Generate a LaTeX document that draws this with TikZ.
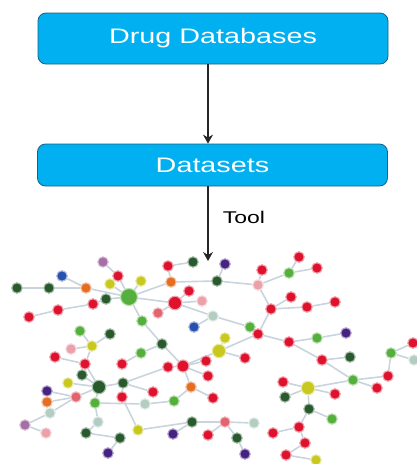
\documentclass[tikz,border=0pt]{standalone}
\usepackage{fontspec}
\usepackage{graphicx}
\setmainfont{Liberation Sans}
\usetikzlibrary{arrows.meta,backgrounds}

\definecolor{boxfill}{RGB}{0,176,240}
\definecolor{boxline}{RGB}{25,95,130}
\definecolor{cred}{RGB}{222,18,45}
\definecolor{cdgreen}{RGB}{40,90,45}
\definecolor{cgreen}{RGB}{85,175,60}
\definecolor{cyel}{RGB}{200,200,30}
\definecolor{cora}{RGB}{230,110,35}
\definecolor{cpink}{RGB}{235,160,170}
\definecolor{csalm}{RGB}{225,100,110}
\definecolor{cpurp}{RGB}{70,35,130}
\definecolor{cmauve}{RGB}{165,110,165}
\definecolor{cblue}{RGB}{40,80,175}
\definecolor{clite}{RGB}{180,205,195}
\definecolor{cedge}{RGB}{200,212,222}

\tikzset{
  box/.style={draw=boxline, fill=boxfill, rounded corners=8pt, line width=0.8pt,
              text=white, minimum width=350pt},
  link/.style={draw=black!85, line width=1.2pt,
               -{Stealth[length=9pt,width=10pt,inset=3pt]}},
  dot/.style={circle, inner sep=0pt, minimum size=10.5pt, line width=1.1pt},
  big/.style={minimum size=13.5pt},
  huge/.style={minimum size=17pt},
  edge/.style={draw=cedge, line width=1.6pt},
  nr/.style={fill=cred, draw=cred!40},
  nd/.style={fill=cdgreen, draw=cdgreen!40},
  ng/.style={fill=cgreen, draw=cgreen!40},
  ny/.style={fill=cyel, draw=cyel!40},
  no/.style={fill=cora, draw=cora!40},
  nk/.style={fill=cpink, draw=cpink!40},
  ns/.style={fill=csalm, draw=csalm!40},
  nu/.style={fill=cpurp, draw=cpurp!40},
  nm/.style={fill=cmauve, draw=cmauve!40},
  nb/.style={fill=cblue, draw=cblue!40},
  nl/.style={fill=clite, draw=clite!40},
  bigr/.style={nr,big}, bigy/.style={ny,big}, bigd/.style={nd,big},
  bigg/.style={ng,huge}, midr/.style={nr,minimum size=12pt}
}

\begin{document}
\begin{tikzpicture}[x=1pt, y=-1pt]
\useasboundingbox (0,0) rectangle (417,464);

\node[box, minimum height=51pt] (db) at (213,38.5)
  {\fontsize{21}{25}\selectfont\scalebox{1.37}[1]{Drug Databases}};
\node[box, minimum height=42pt] (ds) at (212.5,165)
  {\fontsize{21}{25}\selectfont\scalebox{1.37}[1]{Datasets}};
\coordinate (net) at (208,261);
\node (tool) at (244,217) {\fontsize{17}{20}\selectfont\scalebox{1.35}[1]{Tool}};

\draw[link] ([xshift=-5pt]db.south) -- ([xshift=-4.5pt]ds.north);
\draw[link] ([xshift=-4.5pt]ds.south) -- (net);

% network
\foreach \n/\x/\y/\s in {
  p1/103/262/nm, r1/118/276/nr, b1/62/276/nb, y1/110/284/ny,
  d1/17/288/nd, d2/49/288/nd, o1/86/288/no, G/129/297/bigg,
  d3/106/299/nd, r2/93/304/nr, r3/58/310/nr, r4/29/317/nr,
  y2/141/281/ny, o2/171/282/no, r5/168/266/nr, d4/193/262/nd,
  u1/225/264/nu, d5/217/281/nd, k1/258/285/nk, r6/262/270/nr,
  g1/289/273/ng, r7/299/257/nr, r8/317/268/nr,
  R/175/303/bigr, r9/189/291/nr, k2/202/301/nk, s1/158/313/ns,
  l1/213/316/nl, b2/194/327/nb, g2/250/327/ng, r10/258/334/nr,
  r11/271/309/nr, r12/291/297/nr, r13/307/307/nr, r14/335/302/nr,
  r15/289/342/nr, g3/317/338/ng, u2/346/333/nu,
  r16/322/360/nr, d6/350/357/nd, g4/353/380/ng, r17/388/376/nr,
  g5/391/353/ng, r18/413/343/nr, l2/414/360/nl, r19/377/388/nr,
  Y2/308/388/bigy, r20/283/382/nr, d7/285/397/nd, r21/335/394/nr,
  d8/309/409/nd, g6/332/419/ng, r22/299/427/nr, r23/273/433/nr,
  r24/305/443/nr, r25/286/455/nr, y3/316/460/ny,
  g7/142/321/ng, d9/162/344/nd, g8/141/353/ng,
  Y1/219/351/bigy, y4/225/338/ny, r26/245/358/nr, r27/206/361/nr,
  R2/183/366/midr, r28/168/367/nr, r29/208/376/nr, o3/191/387/no,
  r30/213/398/nr, g9/174/401/ng, l3/145/404/nl, r31/153/392/nr,
  d10/123/383/nd, D/99/387/bigd, d11/82/375/nd, y5/68/383/ny,
  s2/76/397/ns, r32/122/397/nr, g10/95/403/ng, r33/85/364/nr,
  y6/92/346/ny, g11/80/331/ng, d12/110/334/nd, k3/71/349/nk,
  r34/55/357/nr, r35/122/364/nr, u3/47/391/nu, o4/47/402/no,
  l4/50/413/nl, m1/25/425/nm, k4/46/433/nk, l5/98/422/nl,
  d13/86/433/nd, d14/120/438/nd, u4/108/453/nu, y7/138/430/ny,
  d15/192/422/nd, u5/173/434/nu, s3/225/422/ns, l6/254/423/nl,
  r36/208/435/nr, d16/237/438/nd, u6/245/454/nu}
  \node[dot, \s] (\n) at (\x,\y) {};

\begin{scope}[on background layer]
\foreach \a/\b in {
  d1/d2, d2/o1, b1/o1, o1/G, p1/r1, r1/G, y1/G, r4/r3, r3/r2, r2/d3, d3/G,
  y2/G, G/o2, o2/r5, r5/d4, o2/d5, d5/u1, d5/k1, k1/r6, k1/g1, g1/r7, g1/r8,
  k1/r11, r11/r12, r11/r13, r13/r14, r11/r10, r10/r15, r15/g3, g3/u2,
  r15/r16, r16/d6, r16/g4, g4/r17, r17/g5, g5/r18, g5/l2, g4/r19, g4/Y2,
  Y2/r20, Y2/d7, Y2/r21, Y2/d8, d8/g6, d8/r22, r22/r23, r22/r24, r24/r25,
  r25/y3, G/R, R/r9, R/k2, R/s1, R/l1, l1/b2, l1/g2, g2/r10, Y1/r10,
  Y1/y4, Y1/r26, Y1/R2, G/g7, g7/d9, d9/g8, g8/r35, d9/R2, R2/r27, R2/r28,
  R2/r29, R2/o3, o3/r30, o3/g9, g9/l3, l3/g10, d10/r28, d10/r31, D/d10,
  D/d11, D/y5, D/s2, D/g10, D/r33, r33/y6, y6/g11, y6/d12, y6/k3, r33/r34,
  s2/u3, s2/o4, s2/l4, l4/m1, m1/k4, g10/l5, l5/d13, d13/d14, d14/u4,
  d10/r32, r32/y7, y7/d15, d15/u5, d15/s3, s3/l6, s3/r36, s3/d16, d16/u6}
  \draw[edge] (\a) -- (\b);
\end{scope}
\end{tikzpicture}
\end{document}
